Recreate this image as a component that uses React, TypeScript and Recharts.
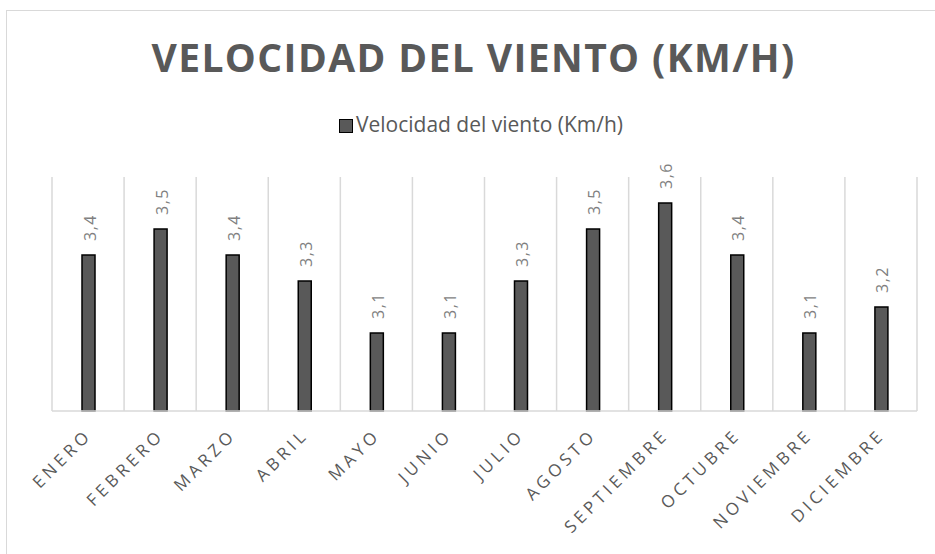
import { Bar, BarChart, CartesianGrid, LabelList, XAxis, YAxis } from "recharts";

const meses = [
  "ENERO",
  "FEBRERO",
  "MARZO",
  "ABRIL",
  "MAYO",
  "JUNIO",
  "JULIO",
  "AGOSTO",
  "SEPTIEMBRE",
  "OCTUBRE",
  "NOVIEMBRE",
  "DICIEMBRE",
];
const velocidad = [3.4, 3.5, 3.4, 3.3, 3.1, 3.1, 3.3, 3.5, 3.6, 3.4, 3.1, 3.2];
const serieNombre = "Velocidad del viento (Km/h)";
const titulo = "VELOCIDAD DEL VIENTO (KM/H)";

const data = meses.map((mes, i) => ({ mes, valor: velocidad[i] }));

const FONT = "'Open Sans', sans-serif";

function MonthTick({ x, y, payload }: any) {
  return (
    <g transform={`translate(${x + 5},${y + 25})`}>
      <text
        x={0}
        y={0}
        transform="rotate(-45)"
        textAnchor="end"
        fontFamily={FONT}
        fontSize={17}
        letterSpacing={4}
        fill="#595959"
      >
        {payload.value}
      </text>
    </g>
  );
}

function ValueLabel({ x, y, width, value }: any) {
  const cx = x + width / 2 + 7;
  const cy = y - 14;
  return (
    <text
      transform={`translate(${cx},${cy}) rotate(-90)`}
      textAnchor="start"
      fontFamily={FONT}
      fontSize={16}
      letterSpacing={1.5}
      fill="#7f7f7f"
    >
      {String(value).replace(".", ",")}
    </text>
  );
}

export default function App() {
  return (
    <div style={{ position: "fixed", left: 0, top: 0, width: 935, height: 554, background: "#fff" }}>
      <div
        style={{
          position: "fixed",
          left: 6,
          top: 10,
          width: 1000,
          height: 700,
          border: "1px solid #d9d9d9",
        }}
      />
      <div
        style={{
          position: "absolute",
          left: 0,
          width: 947,
          top: 31,
          textAlign: "center",
          fontFamily: FONT,
          fontWeight: 700,
          fontSize: 39,
          letterSpacing: 1.4,
          color: "#595959",
          lineHeight: "52px",
        }}
      >
        {titulo}
      </div>
      <div
        style={{
          position: "absolute",
          left: 0,
          width: 962,
          top: 110,
          textAlign: "center",
          fontFamily: FONT,
          fontSize: 21,
          color: "#595959",
          lineHeight: "28px",
        }}
      >
        <span
          style={{
            display: "inline-block",
            width: 12,
            height: 12,
            background: "#595959",
            border: "1.5px solid #000",
            marginRight: 3,
            verticalAlign: "-1px",
          }}
        />
        {serieNombre}
      </div>
      <BarChart
        width={935}
        height={554}
        data={data}
        margin={{ top: 177, right: 18, left: 52, bottom: 0 }}
        style={{ position: "absolute", left: 0, top: 0 }}
      >
        <CartesianGrid
          horizontal={false}
          stroke="#d9d9d9"
          strokeWidth={1.5}
          verticalCoordinatesGenerator={({ offset }: any) =>
            Array.from({ length: meses.length + 1 }, (_, i) => offset.left + (i * offset.width) / meses.length)
          }
        />
        <XAxis
          dataKey="mes"
          interval={0}
          height={143}
          tickLine={false}
          tickSize={0}
          tickMargin={0}
          axisLine={{ stroke: "#d9d9d9", strokeWidth: 1.5 }}
          tick={<MonthTick />}
        />
        <YAxis hide domain={[2.8, 3.7]} />
        <Bar
          dataKey="valor"
          name={serieNombre}
          fill="#595959"
          stroke="#000"
          strokeWidth={1.5}
          barSize={13}
          isAnimationActive={false}
        >
          <LabelList dataKey="valor" content={<ValueLabel />} />
        </Bar>
      </BarChart>
    </div>
  );
}
